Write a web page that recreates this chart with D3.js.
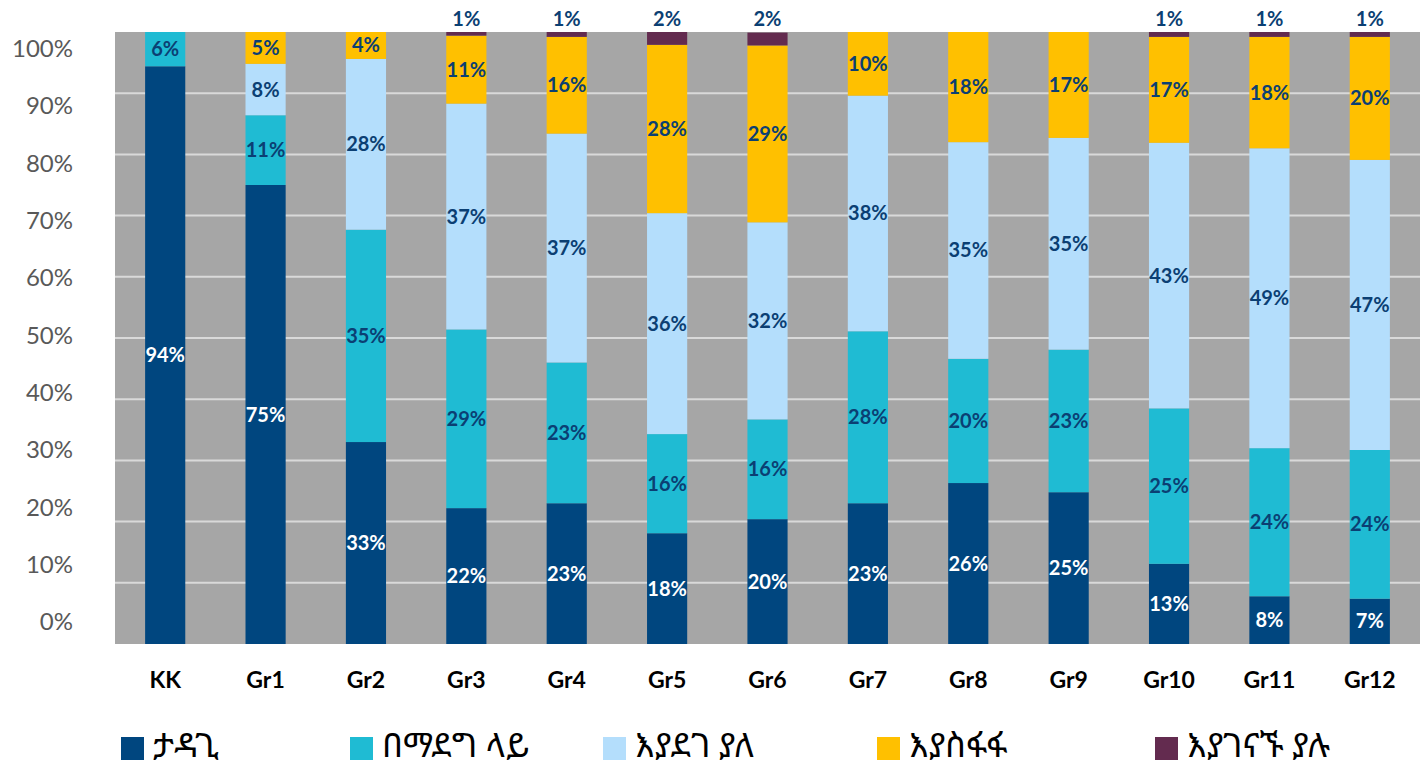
<!DOCTYPE html>
<html>
<head>
<meta charset="utf-8">
<script src="https://cdn.jsdelivr.net/npm/d3@7/dist/d3.min.js"></script>
<style>
  html, body { margin: 0; padding: 0; background: #fff; }
  svg { display: block; }
</style>
</head>
<body>
<svg id="chart" width="1424" height="770"></svg>
<script>
// ---- data ----
const categories = ["KK","Gr1","Gr2","Gr3","Gr4","Gr5","Gr6","Gr7","Gr8","Gr9","Gr10","Gr11","Gr12"];
const seriesNames = ["ታዳጊ","በማደግ ላይ","እያደገ ያለ","እያስፋፋ","እያገናኙ ያሉ"];
const emerging    = [94.4, 75.0, 33.0, 22.2, 23.0, 18.1, 20.4, 23.0, 26.3, 24.8, 13.1, 7.8, 7.4];
const developing  = [ 5.6, 11.4, 34.7, 29.2, 23.0, 16.2, 16.3, 28.1, 20.3, 23.3, 25.4, 24.2, 24.3];
const growing     = [ 0.0,  8.4, 27.9, 36.9, 37.4, 36.1, 32.2, 38.5, 35.4, 34.6, 43.4, 49.0, 47.4];
const expanding   = [ 0.0,  5.2,  4.4, 11.1, 15.8, 27.5, 28.9, 10.4, 18.0, 17.3, 17.3, 18.2, 20.1];
const connecting  = [ 0.0,  0.0,  0.0,  0.6,  0.8,  2.1,  2.1,  0.0,  0.0,  0.0,  0.8,  0.8,  0.8];
const yTicks = [0,10,20,30,40,50,60,70,80,90,100];

const seriesValues = [emerging, developing, growing, expanding, connecting];
const colors = ["#00467F","#1FBBD3","#B4DEFC","#FFC000","#632B4F"];
const labelColors = ["#ffffff","#0B3F73","#0B3F73","#0B3F73","#0B3F73"];

const svg = d3.select("#chart");
const margin = {left:115, right:4, top:32, bottom:126};
const W = 1424, H = 770;
const plotW = W - margin.left - margin.right;
const plotH = H - margin.top - margin.bottom;

const x = d3.scaleBand().domain(categories).range([margin.left, margin.left + plotW]).paddingInner(0.6).paddingOuter(0.3);
const y = d3.scaleLinear().domain([0,100]).range([margin.top + plotH, margin.top]);
// tick labels sit on their own slightly compressed scale, as in the reference
const yLab = d3.scaleLinear().domain([0,100]).range([622, 49]);

// background
svg.append("rect").attr("x", margin.left).attr("y", margin.top)
  .attr("width", plotW).attr("height", plotH).attr("fill", "#A6A6A6");

// gridlines
svg.append("g").selectAll("line").data(yTicks.filter(d => d > 0 && d < 100)).join("line")
  .attr("x1", margin.left).attr("x2", margin.left + plotW)
  .attr("y1", d => y(d)).attr("y2", d => y(d))
  .attr("stroke", "#D9D9D9").attr("stroke-width", 2);

// y axis labels
const yAxis = d3.axisLeft(yLab).tickValues(yTicks).tickFormat(d => d + "%").tickSize(0).tickPadding(42);
const yg = svg.append("g").attr("transform", `translate(${margin.left},0)`).call(yAxis);
yg.select(".domain").remove();
yg.selectAll("text").attr("font-family", "Lato, 'Open Sans', sans-serif")
  .attr("font-size", 24).attr("fill", "#595959");

// stack
const rows = categories.map((c, i) => {
  const o = {cat: c};
  seriesNames.forEach((s, k) => o[s] = seriesValues[k][i]);
  return o;
});
const stack = d3.stack().keys(seriesNames)(rows);

const layers = svg.append("g").selectAll("g").data(stack).join("g")
  .attr("fill", (d, i) => colors[i]);
layers.selectAll("rect").data(d => d).join("rect")
  .attr("x", d => x(d.data.cat)).attr("width", x.bandwidth())
  .attr("y", d => y(d[1])).attr("height", d => Math.max(0, y(d[0]) - y(d[1])));

// labels
const lab = svg.append("g").attr("font-family", "Lato, 'Open Sans', sans-serif")
  .attr("font-weight", "bold").attr("font-size", 20).attr("text-anchor", "middle");
stack.forEach((layer, k) => {
  layer.forEach(d => {
    const v = d[1] - d[0];
    if (v <= 0) return;
    const cx = x(d.data.cat) + x.bandwidth() / 2;
    let cy;
    if (k === 4) cy = margin.top - 13;
    else cy = (y(d[0]) + y(d[1])) / 2;
    lab.append("text").attr("x", cx).attr("y", cy).attr("dy", "0.35em")
      .attr("fill", labelColors[k]).text(Math.round(v) + "%");
  });
});

// x axis labels
const xg = svg.append("g");
xg.selectAll("text").data(categories).join("text")
  .attr("x", d => x(d) + x.bandwidth() / 2).attr("y", 688)
  .attr("text-anchor", "middle").attr("font-family", "Lato, 'Open Sans', sans-serif")
  .attr("font-weight", "bold").attr("font-size", 23).attr("fill", "#000").text(d => d);

// legend
const legendX = [121, 350, 603, 877, 1155];
const lg = svg.append("g");
seriesNames.forEach((s, i) => {
  lg.append("rect").attr("x", legendX[i]).attr("y", 737).attr("width", 23).attr("height", 23).attr("fill", colors[i]);
  lg.append("text").attr("x", legendX[i] + 32).attr("y", 757)
    .attr("font-family", "'Noto Sans Ethiopic', 'Abyssinica SIL', 'DejaVu Sans', 'Noto Sans', sans-serif")
    .attr("font-size", 34).attr("fill", "#000").text(s);
});
</script>
</body>
</html>
